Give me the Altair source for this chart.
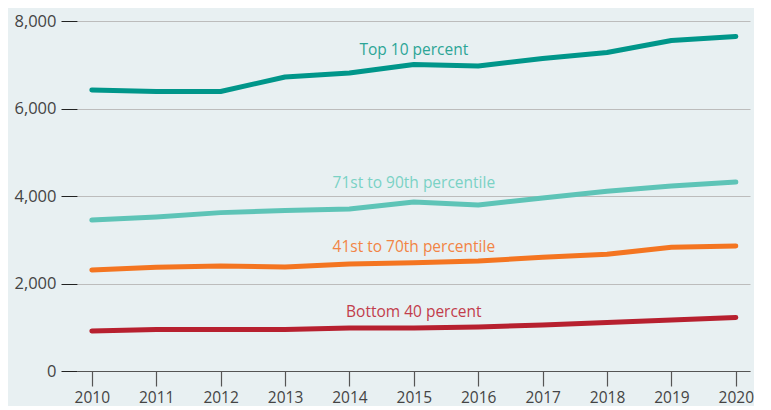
import altair as alt
import pandas as pd

years = list(range(2010, 2021))
series_names = ["Top 10 percent", "71st to 90th percentile", "41st to 70th percentile", "Bottom 40 percent"]
top10 = [6423, 6389, 6389, 6720, 6811, 7006, 6971, 7143, 7280, 7554, 7646]
p71_90 = [3451, 3520, 3620, 3670, 3703, 3863, 3794, 3954, 4110, 4229, 4320]
p41_70 = [2309, 2370, 2400, 2377, 2446, 2475, 2514, 2599, 2667, 2827, 2857]
bottom40 = [914, 949, 949, 949, 983, 983, 1006, 1051, 1109, 1166, 1223]
colors = ["#00968a", "#5ec4b7", "#f47521", "#b7202f"]
label_colors = ["#2ca596", "#7ad2c5", "#f28445", "#c23d4c"]
label_year = [2015, 2015, 2015, 2015]
label_value = [7337, 4297, 2834, 1349]
y_ticks = [0, 2000, 4000, 6000, 8000]

rows = []
for name, vals in zip(series_names, [top10, p71_90, p41_70, bottom40]):
    for yr, v in zip(years, vals):
        rows.append({"year": yr, "value": v, "series": name})
df = pd.DataFrame(rows)
labels = pd.DataFrame({"series": series_names, "year": label_year, "value": label_value,
                       "color": label_colors})

FONT = "Open Sans"
x = alt.X("year:Q", scale=alt.Scale(domain=[2009.77, 2020.22], nice=False, zero=False),
          axis=alt.Axis(values=years, format="d", title=None, grid=False, domain=True,
                        domainColor="#555555", tickColor="#555555", tickSize=15,
                        labelPadding=4, labelFontSize=15.5, labelColor="#444444",
                        labelFont=FONT, domainWidth=1.2, tickWidth=1.2))
y = alt.Y("value:Q", scale=alt.Scale(domain=[0, 8000], nice=False),
          axis=alt.Axis(values=y_ticks, format=",d", title=None, grid=True, gridColor="#bcbcbc",
                        domain=False, tickColor="#222222", tickSize=16, labelPadding=5,
                        labelFontSize=16.5, labelColor="#444444", labelFont=FONT))

lines = alt.Chart(df).mark_line(strokeWidth=5, strokeCap="round", strokeJoin="round").encode(
    x=x, y=y,
    color=alt.Color("series:N", scale=alt.Scale(domain=series_names, range=colors), legend=None),
)
text = alt.Chart(labels).mark_text(fontSize=15.5, font=FONT, baseline="middle", align="center").encode(
    x="year:Q", y="value:Q", text="series:N",
    color=alt.Color("color:N", scale=None),
)

chart = (lines + text).properties(width=673, height=350, background="#e8f0f2",
                                 padding={"left": 5, "top": 5, "right": 0, "bottom": 0}).configure_view(stroke=None)
chart.save("out.html", embed_options={"renderer": "svg", "actions": False})
